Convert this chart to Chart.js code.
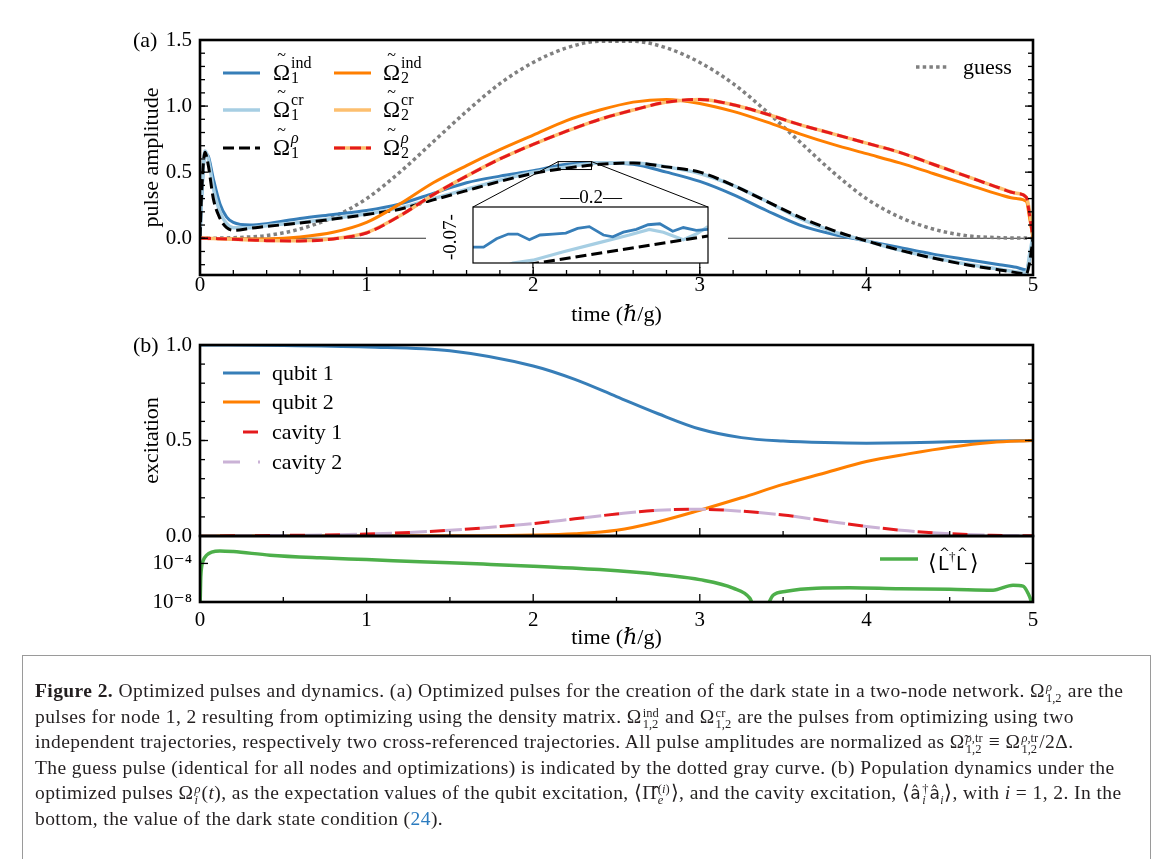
<!DOCTYPE html>
<html>
<head>
<meta charset="utf-8">
<script src="https://cdn.jsdelivr.net/npm/chart.js@4.4.1/dist/chart.umd.min.js"></script>
<style>
  html, body { margin: 0; padding: 0; background: #fff; }
  #page { position: relative; width: 1171px; height: 859px; overflow: hidden; background: #fff; }
  canvas { position: absolute; }
  #cA { left: 0; top: 0; }
  #cB { left: 0; top: 321px; }
  #cL { left: 0; top: 512px; }
  #cI { left: 420px; top: 150px; }
  #frame { position: absolute; left: 22px; top: 655px; width: 1127px; height: 230px; border: 1px solid #9a9a9a; }
  #caption { position: absolute; left: 35px; top: 678px; font-family: "Liberation Serif", serif; font-size: 19.5px;
             letter-spacing: 0.42px; color: #231f20; white-space: nowrap; }
  #caption .ln { height: 25.6px; line-height: 25.6px; }
  .ss { display: inline-block; vertical-align: -5px; font-size: 12.5px; line-height: 11px; margin: 0 1px; letter-spacing: 0; }
  .ss span { display: block; }
  .sans { font-family: "DejaVu Sans", sans-serif; font-size: 17px; }
  .ref { color: #2b7bbf; }
</style>
</head>
<body>
<div id="page">
  <canvas id="cA" width="1171" height="330"></canvas>
  <canvas id="cB" width="1171" height="239"></canvas>
  <canvas id="cL" width="1171" height="150"></canvas>
  <canvas id="cI" width="320" height="130"></canvas>
  <div id="frame"></div>
  <div id="caption">
    <div class="ln"><b>Figure 2.</b> Optimized pulses and dynamics. (a) Optimized pulses for the creation of the dark state in a two-node network. Ω<span class="ss"><span><i>ρ</i></span><span>1,2</span></span> are the</div>
    <div class="ln">pulses for node 1, 2 resulting from optimizing using the density matrix. Ω<span class="ss"><span>ind</span><span>1,2</span></span> and Ω<span class="ss"><span>cr</span><span>1,2</span></span> are the pulses from optimizing using two</div>
    <div class="ln">independent trajectories, respectively two cross-referenced trajectories. All pulse amplitudes are normalized as Ω̃<span class="ss"><span><i>ρ</i>,tr</span><span>1,2</span></span> ≡ Ω<span class="ss"><span><i>ρ</i>,tr</span><span>1,2</span></span>/2Δ.</div>
    <div class="ln">The guess pulse (identical for all nodes and optimizations) is indicated by the dotted gray curve. (b) Population dynamics under the</div>
    <div class="ln">optimized pulses Ω<span class="ss"><span><i>ρ</i></span><span><i>i</i></span></span>(<i>t</i>), as the expectation values of the qubit excitation, ⟨Π̂<span class="ss"><span>(<i>i</i>)</span><span><i>e</i></span></span>⟩, and the cavity excitation, ⟨<span class="sans">â</span><span class="ss"><span>†</span><span><i>i</i></span></span><span class="sans">â</span><sub style="font-size:12px;line-height:0"><i>i</i></sub>⟩, with <i>i</i> = 1, 2. In the</div>
    <div class="ln">bottom, the value of the dark state condition (<span class="ref">24</span>).</div>
  </div>
</div>
<script>
// ---------- data ----------
// panel (a): pulse amplitudes
const tA = [0, 0.01, 0.03, 0.05, 0.08, 0.12, 0.16, 0.2, 0.3, 0.4, 0.6, 0.8, 1.0, 1.2, 1.4, 1.6, 1.8, 2.0, 2.2, 2.4,
            2.6, 2.8, 3.0, 3.2, 3.4, 3.6, 3.8, 4.0, 4.2, 4.4, 4.6, 4.8, 4.9, 4.96, 4.98, 5.0];
const guess = [0, 0, 0, 0, 0, 0.001, 0.002, 0.004, 0.01, 0.02, 0.07, 0.16, 0.3, 0.5, 0.73, 0.96, 1.17, 1.33, 1.44, 1.49,
               1.49, 1.44, 1.33, 1.17, 0.96, 0.73, 0.5, 0.3, 0.16, 0.07, 0.02, 0.004, 0.002, 0.001, 0, 0];
const ind1 = [0, 0.3, 0.64, 0.62, 0.45, 0.26, 0.16, 0.12, 0.1, 0.11, 0.15, 0.18, 0.21, 0.26, 0.34, 0.42, 0.47, 0.51, 0.56, 0.57,
              0.56, 0.5, 0.43, 0.33, 0.21, 0.1, 0.03, -0.02, -0.07, -0.12, -0.16, -0.2, -0.22, -0.24, -0.15, 0.0];
const cr1 = [0, 0.33, 0.66, 0.6, 0.38, 0.2, 0.11, 0.08, 0.08, 0.095, 0.12, 0.15, 0.185, 0.23, 0.3, 0.37, 0.44, 0.5, 0.54, 0.57,
             0.57, 0.54, 0.49, 0.4, 0.28, 0.15, 0.05, -0.02, -0.09, -0.145, -0.195, -0.235, -0.255, -0.26, -0.12, 0.02];
const rho1 = [0, 0.35, 0.65, 0.55, 0.3, 0.15, 0.08, 0.06, 0.075, 0.09, 0.115, 0.145, 0.18, 0.22, 0.29, 0.36, 0.43, 0.49, 0.53, 0.56,
              0.57, 0.54, 0.5, 0.4, 0.28, 0.16, 0.06, -0.02, -0.09, -0.15, -0.2, -0.24, -0.26, -0.27, -0.18, 0.0];
const ind2 = [0, 0, 0, 0, -0.002, -0.003, -0.004, -0.005, -0.006, -0.005, 0.01, 0.045, 0.12, 0.26, 0.42, 0.55, 0.67, 0.78, 0.89, 0.97,
              1.03, 1.05, 1.02, 0.96, 0.88, 0.79, 0.71, 0.64, 0.57, 0.49, 0.41, 0.33, 0.3, 0.28, 0.15, 0.0];
const cr2 = [0, 0, 0, -0.001, -0.002, -0.004, -0.006, -0.008, -0.013, -0.017, -0.019, -0.004, 0.042, 0.17, 0.33, 0.47, 0.6, 0.71, 0.81, 0.9,
             0.97, 1.03, 1.05, 1.01, 0.94, 0.86, 0.79, 0.72, 0.65, 0.56, 0.47, 0.38, 0.34, 0.31, 0.2, 0.02];
const rho2 = [0, 0, 0, -0.001, -0.002, -0.004, -0.006, -0.008, -0.013, -0.018, -0.02, -0.005, 0.04, 0.17, 0.33, 0.47, 0.6, 0.71, 0.81, 0.9,
              0.97, 1.03, 1.05, 1.01, 0.94, 0.86, 0.79, 0.72, 0.65, 0.56, 0.47, 0.38, 0.34, 0.31, 0.17, 0.0];

// inset of panel (a)
const insetTInd = [2.15, 2.159, 2.17, 2.18, 2.188, 2.198, 2.207, 2.218, 2.229, 2.239, 2.249, 2.261, 2.269, 2.278, 2.289, 2.299, 2.309, 2.32, 2.329, 2.34, 2.35];
const insetInd1 = [0.537, 0.537, 0.546, 0.551, 0.551, 0.545, 0.55, 0.551, 0.552, 0.557, 0.559, 0.55, 0.548, 0.553, 0.556, 0.561, 0.562, 0.554, 0.558, 0.555, 0.556];
const insetTCr = [2.17, 2.184, 2.201, 2.227, 2.255, 2.283, 2.3, 2.312, 2.329, 2.34, 2.35];
const insetCr1 = [0.512, 0.52, 0.523, 0.532, 0.541, 0.55, 0.556, 0.553, 0.545, 0.551, 0.559];
const insetTRho = [2.17, 2.35];
const insetRho1 = [0.513, 0.549];
const insetXTicks = [2.201, 2.343];

// panel (b): excitations
const tB = [0, 0.5, 1.0, 1.5, 2.0, 2.25, 2.5, 2.75, 3.0, 3.25, 3.5, 3.75, 4.0, 4.25, 4.5, 4.75, 5.0];
const qubit1 = [1.0, 0.998, 0.99, 0.97, 0.89, 0.82, 0.73, 0.64, 0.56, 0.515, 0.497, 0.489, 0.486, 0.488, 0.493, 0.497, 0.5];
const qubit2 = [0, 0, 0, 0.001, 0.005, 0.012, 0.03, 0.075, 0.135, 0.2, 0.27, 0.33, 0.39, 0.43, 0.465, 0.49, 0.5];
const cavity1 = [0, 0.003, 0.01, 0.03, 0.065, 0.09, 0.115, 0.135, 0.14, 0.13, 0.11, 0.08, 0.05, 0.027, 0.012, 0.004, 0.001];
const cavity2 = [0, 0.003, 0.01, 0.03, 0.065, 0.09, 0.115, 0.135, 0.14, 0.13, 0.11, 0.08, 0.05, 0.027, 0.012, 0.004, 0.001];

// bottom: dark state condition <L^dag L> (log scale)
const tL = [0, 0.004, 0.01, 0.02, 0.04, 0.07, 0.12, 0.2, 0.42, 0.72, 1.0, 1.32, 1.7, 2.0, 2.4, 2.6, 2.8, 3.0, 3.2, 3.3,
            3.34, 3.38, 3.44, 3.52, 3.7, 3.9, 4.2, 4.5, 4.76, 4.88, 4.94, 4.97, 4.99, 5.0];
const darkCond = [1e-9, 1.8e-6, 4.5e-5, 2.2e-4, 7.2e-4, 1.5e-3, 2.0e-3, 1.7e-3, 7.2e-4, 3.8e-4, 2.5e-4, 1.5e-4, 8.5e-5, 5.2e-5, 2.3e-5, 1.3e-5, 6.0e-6, 2.1e-6, 2.7e-7, 2.5e-8,
                  1e-9, 1e-9, 5.0e-8, 1.3e-7, 2.7e-7, 3.0e-7, 2.3e-7, 2.1e-7, 1.7e-7, 5.5e-7, 4.4e-7, 8.1e-8, 1.0e-8, 1e-9];

// ticks
const xTicks = [0, 1, 2, 3, 4, 5];
const aYTicks = [0, 0.5, 1.0, 1.5];
const bYTicks = [0, 0.5, 1.0];
const lYTicks = [1e-8, 1e-4];
const lYLabels = ['10⁻⁸', '10⁻⁴'];

// ---------- styles ----------
const BLUE = '#377eb8', LBLUE = '#a6cee3', ORANGE = '#ff7f00', LORANGE = '#fdbf6f';
const RED = '#e41a1c', LAVENDER = '#cab2d6', GREEN = '#4daf4a', GRAY = '#808080';
const SERIF = '"Liberation Serif", "DejaVu Serif", serif';
const TICK_FONT = { family: SERIF, size: 21 };
const TITLE_FONT = { family: SERIF, size: 22 };
const DASH = [11, 5];

const pts = (xs, ys) => xs.map((x, i) => ({ x, y: ys[i] }));
const range = (a, b, s) => { const r = []; for (let v = a; v <= b + 1e-9; v += s) r.push(+v.toFixed(4)); return r; };

function line(data, color, width, extra) {
  return Object.assign({ data, borderColor: color, borderWidth: width, pointRadius: 0, fill: false,
                         cubicInterpolationMode: 'monotone', borderCapStyle: 'butt' }, extra || {});
}

// frame with inward ticks
const frameTicks = {
  id: 'frameTicks',
  afterDatasetsDraw(chart, args, o) {
    const { ctx, chartArea: a, scales: { x, y } } = chart;
    ctx.save();
    ctx.strokeStyle = '#000';
    ctx.lineWidth = 1.3;
    const seg = (x1, y1, x2, y2) => { ctx.beginPath(); ctx.moveTo(x1, y1); ctx.lineTo(x2, y2); ctx.stroke(); };
    (o.xMinor || []).forEach(v => { const p = x.getPixelForValue(v); seg(p, a.bottom, p, a.bottom - 5); });
    (o.xMajor || []).forEach(v => { const p = x.getPixelForValue(v); seg(p, a.bottom, p, a.bottom - 8); });
    (o.yMinor || []).forEach(v => { const p = y.getPixelForValue(v); seg(a.left, p, a.left + 5, p); seg(a.right, p, a.right - 5, p); });
    (o.yMajor || []).forEach(v => { const p = y.getPixelForValue(v); seg(a.left, p, a.left + 8, p); seg(a.right, p, a.right - 8, p); });
    ctx.lineWidth = 2.6;
    ctx.strokeRect(a.left, a.top, a.right - a.left, a.bottom - a.top);
    if (o.tag) {
      ctx.fillStyle = '#000';
      ctx.font = '22px ' + SERIF;
      ctx.textAlign = 'left';
      ctx.textBaseline = 'middle';
      ctx.fillText(o.tag, 133, a.top + 1);
    }
    ctx.restore();
  }
};

function sample(ctx, x1, x2, y, color, width, dash, offset) {
  ctx.save();
  ctx.strokeStyle = color;
  ctx.lineWidth = width;
  ctx.lineCap = 'butt';
  ctx.setLineDash(dash || []);
  ctx.lineDashOffset = offset || 0;
  ctx.beginPath(); ctx.moveTo(x1, y); ctx.lineTo(x2, y); ctx.stroke();
  ctx.restore();
}

function omegaLabel(ctx, x, base, sup, sub, supItalic) {
  ctx.save();
  ctx.fillStyle = '#000';
  ctx.textBaseline = 'alphabetic';
  ctx.textAlign = 'left';
  ctx.font = '23px ' + SERIF;
  ctx.fillText('Ω', x, base);
  const w = ctx.measureText('Ω').width;
  ctx.font = '16px ' + SERIF;
  ctx.textAlign = 'center';
  ctx.fillText('~', x + w / 2, base - 20);
  ctx.textAlign = 'left';
  ctx.font = (supItalic ? 'italic ' : '') + '16px ' + SERIF;
  ctx.fillText(sup, x + w + 1, base - 12);
  ctx.font = '16px ' + SERIF;
  ctx.fillText(sub, x + w + 1, base + 3);
  ctx.restore();
}

// legends drawn on the canvas
const legendA = {
  id: 'legendA',
  afterDraw(chart) {
    const ctx = chart.ctx;
    const rows = [73, 110, 148];
    sample(ctx, 223, 260, rows[0], BLUE, 3);
    sample(ctx, 223, 260, rows[1], LBLUE, 3.5);
    sample(ctx, 223, 260, rows[2], '#000', 3, DASH);
    sample(ctx, 334, 371, rows[0], ORANGE, 3);
    sample(ctx, 334, 371, rows[1], LORANGE, 3.5);
    sample(ctx, 334, 371, rows[2], LORANGE, 3.5);
    sample(ctx, 334, 371, rows[2], RED, 3, DASH);
    omegaLabel(ctx, 273, rows[0] + 7, 'ind', '1');
    omegaLabel(ctx, 273, rows[1] + 7, 'cr', '1');
    omegaLabel(ctx, 273, rows[2] + 7, 'ρ', '1', true);
    omegaLabel(ctx, 383, rows[0] + 7, 'ind', '2');
    omegaLabel(ctx, 383, rows[1] + 7, 'cr', '2');
    omegaLabel(ctx, 383, rows[2] + 7, 'ρ', '2', true);
    sample(ctx, 916, 949, 67, GRAY, 3.5, [3.5, 3.2]);
    ctx.save();
    ctx.fillStyle = '#000';
    ctx.font = '22px ' + SERIF;
    ctx.textBaseline = 'alphabetic';
    ctx.fillText('guess', 963, 74);
    ctx.restore();
  }
};

// white cover, zoom box and connectors for the inset
const insetBox = { left: 473, top: 207, right: 708, bottom: 263 };
const insetMarks = {
  id: 'insetMarks',
  afterDatasetsDraw(chart) {
    const { ctx, scales: { x, y } } = chart;
    ctx.save();
    ctx.fillStyle = '#fff';
    ctx.fillRect(426, 203, 302, 72);
    const bx1 = x.getPixelForValue(2.15), bx2 = x.getPixelForValue(2.35);
    const by1 = y.getPixelForValue(0.58), by2 = y.getPixelForValue(0.52);
    ctx.strokeStyle = '#000';
    ctx.lineWidth = 1;
    ctx.strokeRect(bx1, by1, bx2 - bx1, by2 - by1);
    ctx.beginPath();
    ctx.moveTo(bx1, by1); ctx.lineTo(insetBox.left, insetBox.top);
    ctx.moveTo(bx2, by1); ctx.lineTo(insetBox.right, insetBox.top);
    ctx.stroke();
    ctx.fillStyle = '#000';
    ctx.font = '19px ' + SERIF;
    ctx.textAlign = 'center';
    ctx.textBaseline = 'middle';
    ctx.fillText('—0.2—', 591, 198);
    ctx.translate(451, 237);
    ctx.rotate(-Math.PI / 2);
    ctx.fillText('-0.07-', 0, 0);
    ctx.restore();
  }
};

function xAxis(h, labelPad, titlePad) {
  return {
    type: 'linear', min: 0, max: 5,
    grid: { display: false, drawTicks: false }, border: { display: false },
    afterBuildTicks: s => { s.ticks = xTicks.map(v => ({ value: v })); },
    afterFit: s => { s.height = h; },
    ticks: { padding: labelPad, font: TICK_FONT, color: '#000', maxRotation: 0, autoSkip: false,
             callback: v => String(v) },
    title: { display: true, text: 'time (ℏ/g)', font: TITLE_FONT, color: '#000',
             padding: { top: 0, bottom: titlePad } }
  };
}

function yAxis(opts) {
  return Object.assign({
    grid: { display: false, drawTicks: false }, border: { display: false },
    afterFit: s => { s.width = 200; }
  }, opts);
}

const baseOpts = { responsive: false, animation: false, events: [], maintainAspectRatio: false };

// ---------- panel (a) ----------
new Chart(document.getElementById('cA'), {
  type: 'line',
  data: { datasets: [
    line(pts(tA, rho2), RED, 3, { borderDash: DASH }),
    line(pts(tA, cr2), LORANGE, 3.5),
    line(pts(tA, ind2), ORANGE, 3),
    line(pts(tA, rho1), '#000', 3, { borderDash: DASH }),
    line(pts(tA, cr1), LBLUE, 3.5),
    line(pts(tA, ind1), BLUE, 3),
    line(pts(tA, guess), GRAY, 3.5, { borderDash: [3.5, 3.2] }),
    line(pts([0, 5], [0, 0]), '#333', 1, { cubicInterpolationMode: 'default', tension: 0 })
  ] },
  options: Object.assign({}, baseOpts, {
    layout: { padding: { left: 0, top: 40, right: 138, bottom: 0 } },
    scales: {
      x: xAxis(55, -2, 2),
      y: yAxis({
        type: 'linear', min: -0.278, max: 1.5,
        afterBuildTicks: s => { s.ticks = aYTicks.map(v => ({ value: v })); },
        title: { display: true, text: 'pulse amplitude', font: TITLE_FONT, color: '#000', padding: { top: 139, bottom: 0 } },
        ticks: { padding: 8, font: TICK_FONT, color: '#000', autoSkip: false, callback: v => v.toFixed(1) }
      })
    },
    plugins: {
      legend: { display: false }, tooltip: { enabled: false },
      frameTicks: { xMajor: xTicks, xMinor: range(0, 5, 0.2), yMajor: aYTicks, yMinor: range(-0.2, 1.5, 0.1), tag: '(a)' }
    }
  }),
  plugins: [insetMarks, frameTicks, legendA]
});

// ---------- inset ----------
const insetFrame = {
  id: 'insetFrame',
  afterDatasetsDraw(chart) {
    const { ctx, chartArea: a, scales: { x } } = chart;
    ctx.save();
    ctx.strokeStyle = '#000';
    ctx.lineWidth = 1.2;
    ctx.strokeRect(a.left, a.top, a.right - a.left, a.bottom - a.top);
    insetXTicks.forEach(v => {
      const p = x.getPixelForValue(v);
      ctx.beginPath(); ctx.moveTo(p, a.bottom); ctx.lineTo(p, a.bottom + 5); ctx.stroke();
    });
    ctx.restore();
  }
};
new Chart(document.getElementById('cI'), {
  type: 'line',
  data: { datasets: [
    line(pts(insetTRho, insetRho1), '#000', 3, { borderDash: DASH, cubicInterpolationMode: 'default', tension: 0 }),
    line(pts(insetTInd, insetInd1), BLUE, 2.8, { cubicInterpolationMode: 'default', tension: 0 }),
    line(pts(insetTCr, insetCr1), LBLUE, 3.2, { cubicInterpolationMode: 'default', tension: 0 })
  ] },
  options: Object.assign({}, baseOpts, {
    layout: { padding: { left: 53, top: 57, right: 32, bottom: 17 } },
    scales: {
      x: { type: 'linear', display: false, min: 2.15, max: 2.35 },
      y: { type: 'linear', display: false, min: 0.52, max: 0.58 }
    },
    plugins: { legend: { display: false }, tooltip: { enabled: false } }
  }),
  plugins: [insetFrame]
});

// ---------- panel (b) ----------
const B_TOP = 321;
const legendB = {
  id: 'legendB',
  afterDraw(chart) {
    const ctx = chart.ctx;
    const rows = [373, 402, 432, 462].map(r => r - B_TOP);
    sample(ctx, 223, 260, rows[0], BLUE, 3);
    sample(ctx, 223, 260, rows[1], ORANGE, 3);
    sample(ctx, 223, 260, rows[2], RED, 3, [15, 20], 15);
    sample(ctx, 223, 260, rows[3], LAVENDER, 3, [17, 18]);
    ctx.save();
    ctx.fillStyle = '#000';
    ctx.font = '22px ' + SERIF;
    ctx.textBaseline = 'alphabetic';
    ['qubit 1', 'qubit 2', 'cavity 1', 'cavity 2'].forEach((t, i) => ctx.fillText(t, 272, rows[i] + 7));
    ctx.restore();
  }
};
new Chart(document.getElementById('cB'), {
  type: 'line',
  data: { datasets: [
    line(pts(tB, cavity1), RED, 3, { borderDash: [15, 20], borderDashOffset: 15 }),
    line(pts(tB, cavity2), LAVENDER, 3, { borderDash: [17, 18] }),
    line(pts(tB, qubit2), ORANGE, 3),
    line(pts(tB, qubit1), BLUE, 3)
  ] },
  options: Object.assign({}, baseOpts, {
    layout: { padding: { left: 0, top: 24, right: 138, bottom: 24 } },
    scales: {
      x: { type: 'linear', min: 0, max: 5, display: false },
      y: yAxis({
        type: 'linear', min: 0, max: 1,
        afterBuildTicks: s => { s.ticks = bYTicks.map(v => ({ value: v })); },
        title: { display: true, text: 'excitation', font: TITLE_FONT, color: '#000', padding: { top: 139, bottom: 0 } },
        ticks: { padding: 8, font: TICK_FONT, color: '#000', autoSkip: false, callback: v => v.toFixed(1) }
      })
    },
    plugins: {
      legend: { display: false }, tooltip: { enabled: false },
      frameTicks: { xMajor: xTicks, xMinor: range(0.5, 4.5, 1), yMajor: bYTicks, yMinor: range(0.1, 0.9, 0.1), tag: '(b)' }
    }
  }),
  plugins: [frameTicks, legendB]
});

// ---------- bottom: dark state condition ----------
const L_TOP = 512;
const legendL = {
  id: 'legendL',
  afterDraw(chart) {
    const ctx = chart.ctx;
    const y0 = 559 - L_TOP;
    sample(ctx, 880, 918, y0, GREEN, 3.5);
    const base = y0 + 11;
    ctx.save();
    ctx.fillStyle = '#000';
    ctx.textBaseline = 'alphabetic';
    ctx.font = '22px ' + SERIF;
    ctx.fillText('⟨', 928, base);
    ctx.font = '19px "DejaVu Sans", sans-serif';
    ctx.fillText('L', 938, base);
    ctx.font = '13px "DejaVu Sans", sans-serif';
    ctx.fillText('^', 939, base - 13);
    ctx.font = '13px ' + SERIF;
    ctx.fillText('†', 949, base - 9);
    ctx.font = '19px "DejaVu Sans", sans-serif';
    ctx.fillText('L', 956, base);
    ctx.font = '13px "DejaVu Sans", sans-serif';
    ctx.fillText('^', 957, base - 13);
    ctx.font = '22px ' + SERIF;
    ctx.fillText('⟩', 970, base);
    ctx.restore();
  }
};
new Chart(document.getElementById('cL'), {
  type: 'line',
  data: { datasets: [ line(pts(tL, darkCond), GREEN, 3.5) ] },
  options: Object.assign({}, baseOpts, {
    layout: { padding: { left: 0, top: 24, right: 138, bottom: 0 } },
    scales: {
      x: xAxis(60, 6, 11),
      y: yAxis({
        type: 'logarithmic', min: 1e-8, max: 7e-2,
        afterBuildTicks: s => { s.ticks = lYTicks.map(v => ({ value: v })); },
        title: { display: false },
        ticks: { padding: 8, font: TICK_FONT, color: '#000', autoSkip: false,
                 callback: v => lYLabels[lYTicks.indexOf(v)] }
      })
    },
    plugins: {
      legend: { display: false }, tooltip: { enabled: false },
      frameTicks: { xMajor: xTicks, xMinor: range(0.5, 4.5, 1), yMajor: lYTicks }
    }
  }),
  plugins: [frameTicks, legendL]
});
</script>
</body>
</html>
